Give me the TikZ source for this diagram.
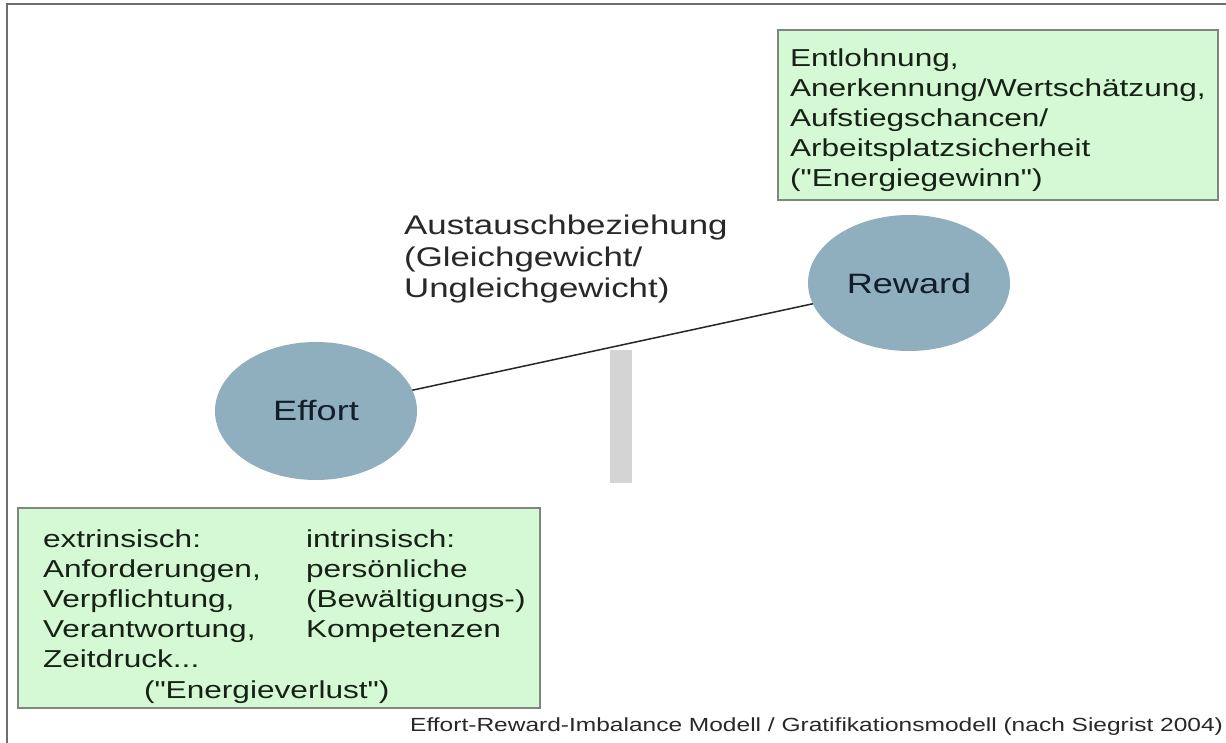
\documentclass[tikz,border=0pt]{standalone}
\usepackage{fontspec}
\setmainfont{Liberation Sans}[FakeStretch=1.29, Ligatures=TeXOff]
\usetikzlibrary{shapes.geometric}
\definecolor{boxgreen}{RGB}{213,248,213}
\definecolor{boxedge}{RGB}{125,135,125}
\definecolor{ellfill}{RGB}{143,175,191}
\definecolor{bargray}{RGB}{212,212,212}
\definecolor{framegray}{RGB}{110,110,110}
\definecolor{txtgreen}{RGB}{22,34,22}
\definecolor{txtblue}{RGB}{18,30,42}
\definecolor{txtgray}{RGB}{40,40,40}
\begin{document}
\begin{tikzpicture}[x=1pt,y=-1pt,
  greenbox/.style={draw=boxedge, line width=1.5pt, fill=boxgreen},
  bubble/.style={ellipse, fill=ellfill, inner sep=0pt, outer sep=0pt,
    font=\fontsize{28}{30}\selectfont, text=txtblue},
  boxtext/.style={anchor=base west, align=left, inner sep=0pt, outer sep=0pt,
    font=\fontsize{24.5}{30.2}\selectfont, text=txtgreen},
  midtext/.style={anchor=base west, align=left, inner sep=0pt,
    font=\fontsize{27}{31.5}\selectfont, text=txtgray},
  foottext/.style={anchor=base west, inner sep=0pt,
    font=\fontsize{19}{22}\selectfont, text=txtgray},
  link/.style={draw=black!85, line width=1.5pt}]
\useasboundingbox (0,0) rectangle (1226,743);
\fill[white] (0,0) rectangle (1226,743);
% frame
\draw[framegray, line width=2pt] (7,743) -- (7,4) -- (1226,4);
% support bar
\fill[bargray] (610,350) rectangle (632,483);
% top box
\draw[greenbox] (778,30) rectangle (1218,200);
\node[boxtext] (rewardtxt) at (790,187)
  {Entlohnung,\\Anerkennung/Wertschätzung,\\Aufstiegschancen/\\Arbeitsplatzsicherheit\\("Energiegewinn")};
% bottom box
\draw[greenbox] (18,508) rectangle (540,708);
\node[boxtext] (extr) at (43,667.8)
  {extrinsisch:\\Anforderungen,\\Verpflichtung,\\Verantwortung,\\Zeitdruck...};
\node[boxtext] (intr) at (306,637.6)
  {intrinsisch:\\persönliche\\(Bewältigungs-)\\Kompetenzen};
\node[boxtext] (verlust) at (144,698) {("Energieverlust")};
% middle label
\node[midtext] (austausch) at (404,298)
  {Austauschbeziehung\\(Gleichgewicht/\\Ungleichgewicht)};
% ellipses
\node[bubble, minimum width=202pt, minimum height=138pt] (effort) at (316,411) {Effort};
\node[bubble, minimum width=202pt, minimum height=136pt] (reward) at (909,283) {Reward};
\draw[link] (effort) -- (reward);
% footer
\node[foottext] (footer) at (410,731)
  {Effort-Reward-Imbalance Modell / Gratifikationsmodell (nach Siegrist 2004)};
\end{tikzpicture}
\end{document}
